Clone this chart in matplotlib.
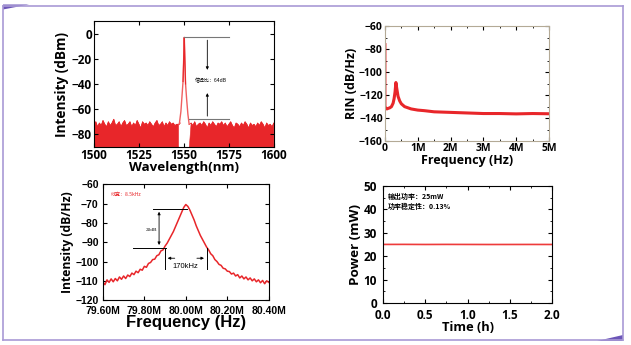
import numpy as np
import matplotlib.pyplot as plt
from matplotlib.lines import Line2D
from matplotlib.patches import Polygon
from matplotlib.ticker import MultipleLocator, FuncFormatter

plt.rcParams['font.family'] = ['Open Sans', 'Noto Sans CJK SC', 'DejaVu Sans']
plt.rcParams['font.weight'] = 'bold'
plt.rcParams['axes.labelweight'] = 'bold'

RED = '#e8262a'

# --- optical spectrum (top left) ---
noise_nm = np.arange(1500, 1601)
noise_top = [-72, -70, -74, -71, -73, -69, -72, -74, -70, -73,
             -71, -68, -73, -72, -70, -74, -71, -69, -73, -72,
             -70, -74, -71, -73, -69, -72, -75, -70, -72, -71,
             -73, -70, -72, -74, -71, -69, -73, -72, -70, -74,
             -71, -73, -70, -72, -71, -73, -72,
             -72, -71, -70, -70, -70, -71, -72,
             -71, -73, -70, -74, -72, -71,
             -73, -70, -72, -75, -71, -73, -70, -72, -74, -71,
             -72, -70, -73, -71, -74, -72, -70, -73, -75, -71,
             -72, -74, -71, -73, -70, -72, -75, -71, -73, -72,
             -74, -71, -73, -70, -72, -75, -71, -73, -72, -74, -71]
gap_nm = (1547.5, 1553.5)
peak_nm = [1547.4, 1548.3, 1549.0, 1549.5, 1549.9, 1550.2, 1550.5, 1550.9, 1551.5, 1552.2, 1552.9]
peak_db = [-72, -62, -48, -38, -18, -3, -20, -40, -52, -64, -72]
snr_text = '信噪比：64dB'

# --- RIN (top right) ---
rin_f = [0.0, 0.0, 0.02, 0.06, 0.1, 0.15, 0.2, 0.25, 0.28, 0.31, 0.335, 0.36, 0.4, 0.45,
         0.5, 0.6, 0.7, 0.8, 1.0, 1.2, 1.5, 2.0, 2.5, 3.0, 3.5, 4.0, 4.5, 5.0]
rin_db = [-76, -130, -131, -132, -131.5, -131, -130, -127, -123, -117, -109, -114, -121, -125,
          -127.5, -130, -131, -132, -133, -133.5, -134.5, -135, -135.5, -136, -136, -136.3, -136, -136.2]

# --- beat note (bottom left) ---
beat_f = np.round(np.arange(79.60, 80.405, 0.01), 2)
beat_db = [-110.5, -112, -109.5, -110.8, -109, -110.5, -108.8, -110, -108, -109.2,
           -107.5, -108.8, -107, -107.8, -106, -106.8, -105, -105.8, -104, -104.5,
           -102.5, -103, -101, -100.5, -99, -98.8, -97, -96.5, -94.5, -94,
           -92, -90.5, -88.5, -86.5, -84.5, -82, -79.5, -77, -74.5, -72,
           -70.5, -71.5, -73.5, -76, -78.5, -81.5, -84, -86.5, -88.5, -90.5,
           -92.5, -94, -96, -97, -99, -100, -101.5, -102, -103.5, -103.8,
           -105, -105.2, -106.5, -106, -107.5, -106.8, -108.5, -107.5, -109, -108,
           -109.5, -108.5, -110, -109, -110.5, -109.5, -111, -109.8, -111.5, -110, -110.8]
linewidth_text = '线宽：8.5kHz'

# --- output power (bottom right) ---
time_h = [0.0, 0.25, 0.5, 0.75, 1.0, 1.25, 1.5, 1.75, 2.0]
power_mw = [25.0, 25.02, 24.98, 25.01, 24.99, 24.97, 24.98, 24.99, 24.98]
power_text = ['输出功率：25mW', '功率稳定性：0.13%']

fig = plt.figure(figsize=(6.31, 3.45), dpi=100)


def style(ax, size=8):
    ax.tick_params(which='both', direction='in', top=True, right=True, labelsize=size, pad=1.5)
    ax.tick_params(which='major', length=3, width=0.8)
    ax.tick_params(which='minor', length=1.5, width=0.6)
    for lab in ax.get_xticklabels() + ax.get_yticklabels():
        lab.set_fontweight('bold')


# top left
ax1 = fig.add_axes([0.149, 0.574, 0.285, 0.365])
x = np.array(noise_nm)
top = np.array(noise_top)
outside = (x <= gap_nm[0]) | (x >= gap_nm[1])
ax1.fill_between(x, -90, top, where=outside, color=RED, lw=0.4, interpolate=True)
ax1.plot(x[x <= 1548], top[x <= 1548], color=RED, lw=0.6)
ax1.plot(x[x >= 1553], top[x >= 1553], color=RED, lw=0.6)
ax1.plot(peak_nm, peak_db, color='#f06060', lw=1.0)
ax1.plot(peak_nm[3:8], peak_db[3:8], color=RED, lw=0.8)
ax1.set_xlim(1500, 1600)
ax1.set_ylim(-90, 10)
ax1.xaxis.set_major_locator(MultipleLocator(25))
ax1.yaxis.set_major_locator(MultipleLocator(20))
ax1.plot([1550.2, 1575.2], [-3, -3], color='#777777', lw=0.8)
ax1.plot([1552.8, 1575.2], [-67.7, -67.7], color='#777777', lw=0.8)
ax1.annotate('', xy=(1563, -31), xytext=(1563, -3),
             arrowprops=dict(arrowstyle='-|>', color='black', lw=0.6, mutation_scale=4))
ax1.annotate('', xy=(1563, -45), xytext=(1563, -67.7),
             arrowprops=dict(arrowstyle='-|>', color='black', lw=0.6, mutation_scale=4))
ax1.text(1565, -37.5, snr_text, fontsize=3.6, ha='center', va='center',
         family=['Noto Sans CJK SC', 'DejaVu Sans'], fontweight='normal')
ax1.set_xlabel('Wavelength(nm)', fontsize=9.6, labelpad=-1)
ax1.set_ylabel('Intensity (dBm)', fontsize=9.8, labelpad=2)
style(ax1, 8.5)

# top right
ax2 = fig.add_axes([0.610, 0.591, 0.260, 0.333])
ax2.plot(rin_f, rin_db, color=RED, lw=2.2, solid_joinstyle='round')
ax2.set_xlim(0, 5)
ax2.set_ylim(-160, -60)
ax2.xaxis.set_major_locator(MultipleLocator(1))
ax2.xaxis.set_minor_locator(MultipleLocator(0.5))
ax2.yaxis.set_major_locator(MultipleLocator(20))
ax2.yaxis.set_minor_locator(MultipleLocator(10))
ax2.xaxis.set_major_formatter(FuncFormatter(lambda v, p: '0' if v == 0 else f'{int(v)}M'))
for s in ax2.spines.values():
    s.set_color('#b4aa96')
ax2.set_xlabel('Frequency (Hz)', fontsize=9, labelpad=0)
ax2.set_ylabel('RIN (dB/Hz)', fontsize=9, labelpad=1)
style(ax2, 7.5)

# bottom left
ax3 = fig.add_axes([0.163, 0.130, 0.263, 0.336])
ax3.plot(beat_f, beat_db, color=RED, lw=1.1)
ax3.set_xlim(79.6, 80.4)
ax3.set_ylim(-120, -60)
ax3.xaxis.set_major_locator(MultipleLocator(0.2))
ax3.yaxis.set_major_locator(MultipleLocator(10))
ax3.xaxis.set_major_formatter(FuncFormatter(lambda v, p: f'{v:.2f}M'))
ax3.plot([79.841, 80.005], [-72.8, -72.8], color='black', lw=0.7)
ax3.plot([79.745, 79.904], [-92.9, -92.9], color='black', lw=0.7)
ax3.annotate('', xy=(79.871, -72.8), xytext=(79.871, -92.9),
             arrowprops=dict(arrowstyle='<|-|>', color='black', lw=0.6, mutation_scale=4))
ax3.text(79.862, -83.5, '20dB', fontsize=3.8, ha='right', va='center',
         family=['Liberation Serif'], fontweight='normal')
ax3.plot([79.899, 79.899], [-92.9, -104], color='black', lw=0.7)
ax3.plot([80.101, 80.101], [-92.9, -104], color='black', lw=0.7)
ax3.annotate('', xy=(79.899, -98.3), xytext=(79.96, -98.3),
             arrowprops=dict(arrowstyle='-|>', color='black', lw=0.6, mutation_scale=4))
ax3.annotate('', xy=(80.101, -98.3), xytext=(80.04, -98.3),
             arrowprops=dict(arrowstyle='-|>', color='black', lw=0.6, mutation_scale=4))
ax3.text(80.0, -102.8, '170kHz', fontsize=5.5, ha='center', va='center',
         family=['Liberation Sans'], fontweight='normal')
ax3.text(79.64, -65, linewidth_text, fontsize=3.6, color=RED, ha='left', va='center',
         family=['Noto Sans CJK SC', 'DejaVu Sans'], fontweight='normal')
ax3.set_xlabel('Frequency (Hz)', fontsize=12, labelpad=-0.5, family=['Liberation Sans'])
ax3.set_ylabel('Intensity (dB/Hz)', fontsize=8.7, labelpad=1)
style(ax3, 7.5)
ax3.tick_params(axis='y', pad=3)
ax3.tick_params(axis='x', pad=4)
for lab in ax3.get_xticklabels() + ax3.get_yticklabels():
    lab.set_fontfamily('Liberation Sans')

# bottom right
ax4 = fig.add_axes([0.607, 0.122, 0.268, 0.339])
ax4.plot(time_h, power_mw, color='#ee3b3b', lw=1.2)
ax4.set_xlim(0, 2)
ax4.set_ylim(0, 50)
ax4.xaxis.set_major_locator(MultipleLocator(0.5))
ax4.xaxis.set_minor_locator(MultipleLocator(0.25))
ax4.yaxis.set_major_locator(MultipleLocator(10))
ax4.yaxis.set_minor_locator(MultipleLocator(5))
ax4.text(0.06, 45.5, power_text[0], fontsize=5, ha='left', va='center',
         family=['Noto Sans CJK SC', 'DejaVu Sans'], fontweight='bold')
ax4.text(0.06, 41.5, power_text[1], fontsize=5, ha='left', va='center',
         family=['Noto Sans CJK SC', 'DejaVu Sans'], fontweight='bold')
ax4.set_xlabel('Time (h)', fontsize=9.3, labelpad=-0.5)
ax4.set_ylabel('Power (mW)', fontsize=9.7, labelpad=1)
style(ax4, 8.5)
ax4.tick_params(axis='y', pad=4.5)
ax4.tick_params(axis='x', pad=4.5)

# page frame
W, H = 631, 345


def fc(px, py):
    return px / W, 1 - py / H


frame = '#a99ad6'
for (xa, ya), (xb, yb) in [((3, 6), (623, 6)), ((3, 6), (3, 340)),
                           ((3, 340), (623, 340)), ((623, 6), (623, 340))]:
    p, q = fc(xa, ya), fc(xb, yb)
    fig.add_artist(Line2D([p[0], q[0]], [p[1], q[1]], color=frame, lw=1.2))
fig.add_artist(Polygon([fc(3, 4.5), fc(29, 4.5), fc(3, 9.5)], closed=True,
                       color='#6c56b8', lw=0))
fig.add_artist(Polygon([fc(623, 341), fc(597, 341), fc(623, 335)], closed=True,
                       color='#6c56b8', lw=0))

fig.savefig('out.png', dpi=100)
